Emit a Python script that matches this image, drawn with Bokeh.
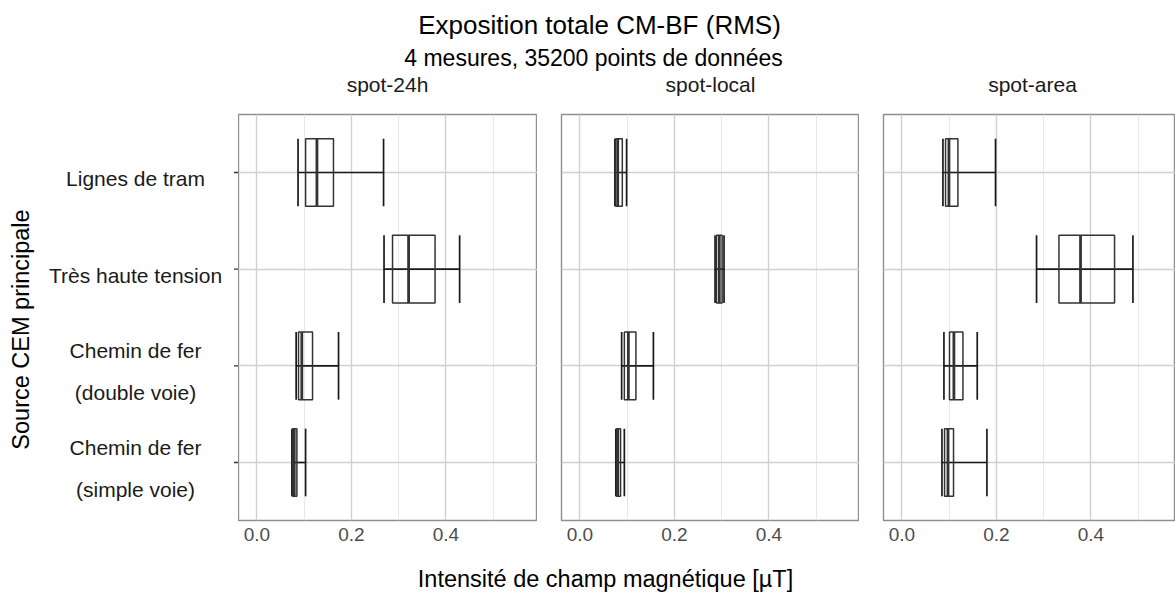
import numpy as np
from bokeh.plotting import figure
from bokeh.layouts import row, column
from bokeh.models import Range1d, FixedTicker, ColumnDataSource, PrintfTickFormatter
from bokeh.core.properties import value
from bokeh.embed import file_html
from bokeh.resources import INLINE

# ---------------- data ----------------
title = "Exposition totale CM-BF (RMS)"
subtitle = "4 mesures, 35200 points de données"
x_title = "Intensité de champ magnétique [µT]"
y_title = "Source CEM principale"

# categories, bottom to top
categories = ["Chemin de fer\n(simple voie)", "Chemin de fer\n(double voie)",
              "Très haute tension", "Lignes de tram"]
panels = ["spot-24h", "spot-local", "spot-area"]

x_ticks = [0.0, 0.2, 0.4]
x_minor = [0.1, 0.3, 0.5]

low_24h = [0.074, 0.083, 0.269, 0.087]
q1_24h = [0.0755, 0.088, 0.287, 0.103]
med_24h = [0.079, 0.095, 0.321, 0.127]
q3_24h = [0.0846, 0.1177, 0.377, 0.162]
high_24h = [0.103, 0.1727, 0.429, 0.268]

low_local = [0.076, 0.0883, 0.286, 0.074]
q1_local = [0.0775, 0.094, 0.289, 0.0755]
med_local = [0.080, 0.1025, 0.295, 0.080]
q3_local = [0.086, 0.1185, 0.301, 0.0897]
high_local = [0.094, 0.1555, 0.305, 0.0988]

low_area = [0.0847, 0.0889, 0.2849, 0.0868]
q1_area = [0.0902, 0.1007, 0.3323, 0.0923]
med_area = [0.0974, 0.110, 0.378, 0.0995]
q3_area = [0.1092, 0.1291, 0.450, 0.1185]
high_area = [0.1799, 0.1594, 0.4889, 0.1981]

panel_stats = [
    (low_24h, q1_24h, med_24h, q3_24h, high_24h),
    (low_local, q1_local, med_local, q3_local, high_local),
    (low_area, q1_area, med_area, q3_area, high_area),
]

# ---------------- style ----------------
FONT_NAME = "Liberation Sans"
FONT = value(FONT_NAME)
W = 1175
HEADER_H = 110
FOOTER_H = 36
TOP_B = 4
FRAME_H = 406
BOT_B = 36
PANEL_H = TOP_B + FRAME_H + BOT_B
LEFT_W = 238
GAP = 24
P1_W = 299
P2_FRAME = 298
P2_W = GAP + P2_FRAME
P3_W = W - LEFT_W - P1_W - P2_W
PX_PER_UNIT = 472.5
X_START = -0.039
BOX_H = 0.7

BORDER = "#8f8f8f"
GRID_MAJOR = "#d0d0d0"
GRID_MINOR = "#e8e8e8"
BOX_COL = "#333333"
WHISK_COL = "#1a1a1a"

pos = np.arange(1, len(categories) + 1)
y_range = Range1d(0.4, len(categories) + 0.6)


def blank(p):
    p.grid.visible = False
    p.outline_line_color = None
    p.background_fill_color = "white"
    p.border_fill_color = "white"


def make_panel(width, border_left, frame_w, stats):
    xr = Range1d(X_START, X_START + frame_w / PX_PER_UNIT)
    p = figure(width=width, height=PANEL_H, x_range=xr, y_range=y_range,
               output_backend="svg", toolbar_location=None, y_axis_location=None,
               min_border=0, min_border_left=border_left, min_border_right=0,
               min_border_top=TOP_B, min_border_bottom=BOT_B)
    tk = FixedTicker(ticks=x_ticks, minor_ticks=x_minor)
    p.xaxis.ticker = tk
    p.xaxis.formatter = PrintfTickFormatter(format="%.1f")
    p.xaxis.major_tick_out = 0
    p.xaxis.major_tick_in = 0
    p.xaxis.minor_tick_out = 0
    p.xaxis.minor_tick_in = 0
    p.xaxis.axis_line_color = None
    p.xaxis.major_label_standoff = 7
    p.xaxis.major_label_text_font = FONT_NAME
    p.xaxis.major_label_text_font_size = "19px"
    p.xaxis.major_label_text_color = "#4d4d4d"
    p.xgrid.ticker = tk
    p.xgrid.grid_line_color = GRID_MAJOR
    p.xgrid.grid_line_width = 1.4
    p.xgrid.minor_grid_line_color = GRID_MINOR
    p.xgrid.minor_grid_line_width = 1.1
    p.ygrid.ticker = FixedTicker(ticks=list(pos))
    p.ygrid.grid_line_color = GRID_MAJOR
    p.ygrid.grid_line_width = 1.4
    p.outline_line_color = BORDER
    p.outline_line_width = 1.4
    p.background_fill_color = "white"
    p.border_fill_color = "white"

    low, q1, med, q3, high = stats
    src = ColumnDataSource(dict(y=pos, low=low, q1=q1, med=med, q3=q3, high=high,
                                y0=pos - BOX_H / 2, y1=pos + BOX_H / 2))
    p.segment(x0="low", y0="y", x1="high", y1="y", source=src,
              line_color=WHISK_COL, line_width=1.7)
    p.segment(x0="low", y0="y0", x1="low", y1="y1", source=src,
              line_color=WHISK_COL, line_width=1.7)
    p.segment(x0="high", y0="y0", x1="high", y1="y1", source=src,
              line_color=WHISK_COL, line_width=1.7)
    p.quad(left="q1", right="q3", bottom="y0", top="y1", source=src,
           fill_color=None, line_color=BOX_COL, line_width=1.5)
    p.segment(x0="med", y0="y0", x1="med", y1="y1", source=src,
              line_color=BOX_COL, line_width=2.8)
    return p


# header with title, subtitle and strip labels
header = figure(width=W, height=HEADER_H, x_range=Range1d(0, W), y_range=Range1d(HEADER_H, 0),
                x_axis_location=None, y_axis_location=None, output_backend="svg",
                toolbar_location=None, min_border=0)
blank(header)
header.text(x=[599], y=[24], text=[title], text_font=FONT, text_font_size="26px",
            text_align="center", text_baseline="middle", text_color="#000000")
header.text(x=[593], y=[57], text=[subtitle], text_font=FONT, text_font_size="23px",
            text_align="center", text_baseline="middle", text_color="#000000")
frame_lefts = [LEFT_W, LEFT_W + P1_W + GAP, LEFT_W + P1_W + P2_W + GAP]
strip_x = [fl + P2_FRAME / 2 for fl in frame_lefts]
header.text(x=strip_x, y=[84] * len(panels), text=panels, text_font=FONT, text_font_size="21px",
            text_align="center", text_baseline="middle", text_color="#1a1a1a")

# left label area
left = figure(width=LEFT_W, height=PANEL_H, x_range=Range1d(0, LEFT_W), y_range=y_range,
              x_axis_location=None, y_axis_location=None, output_backend="svg",
              toolbar_location=None, min_border=0, min_border_top=TOP_B, min_border_bottom=BOT_B)
blank(left)
left.text(x=[135] * len(categories), y=pos, text=categories, text_font=FONT,
          text_font_size="21px", text_align="center", text_baseline="middle",
          text_line_height=1.83, y_offset=6, text_color="#1a1a1a")
left.segment(x0=233.5, x1=LEFT_W, y0=pos, y1=pos, line_color="#333333", line_width=1.3)
mid = (y_range.start + y_range.end) / 2
left.text(x=[20], y=[mid], text=[y_title], angle=np.pi / 2, text_font=FONT,
          text_font_size="23.5px", text_align="center", text_baseline="middle",
          y_offset=12, text_color="#000000")

p1 = make_panel(P1_W, 0, P1_W, panel_stats[0])
p2 = make_panel(P2_W, GAP, P2_FRAME, panel_stats[1])
p3 = make_panel(P3_W, GAP, P3_W - GAP, panel_stats[2])

footer = figure(width=W, height=FOOTER_H, x_range=Range1d(0, W), y_range=Range1d(FOOTER_H, 0),
                x_axis_location=None, y_axis_location=None, output_backend="svg",
                toolbar_location=None, min_border=0)
blank(footer)
footer.text(x=[605], y=[22.5], text=[x_title], text_font=FONT, text_font_size="23.5px",
            text_align="center", text_baseline="middle", text_color="#000000")

layout = column(header, row(left, p1, p2, p3), footer)
open("out.html", "w").write(file_html(layout, INLINE))
